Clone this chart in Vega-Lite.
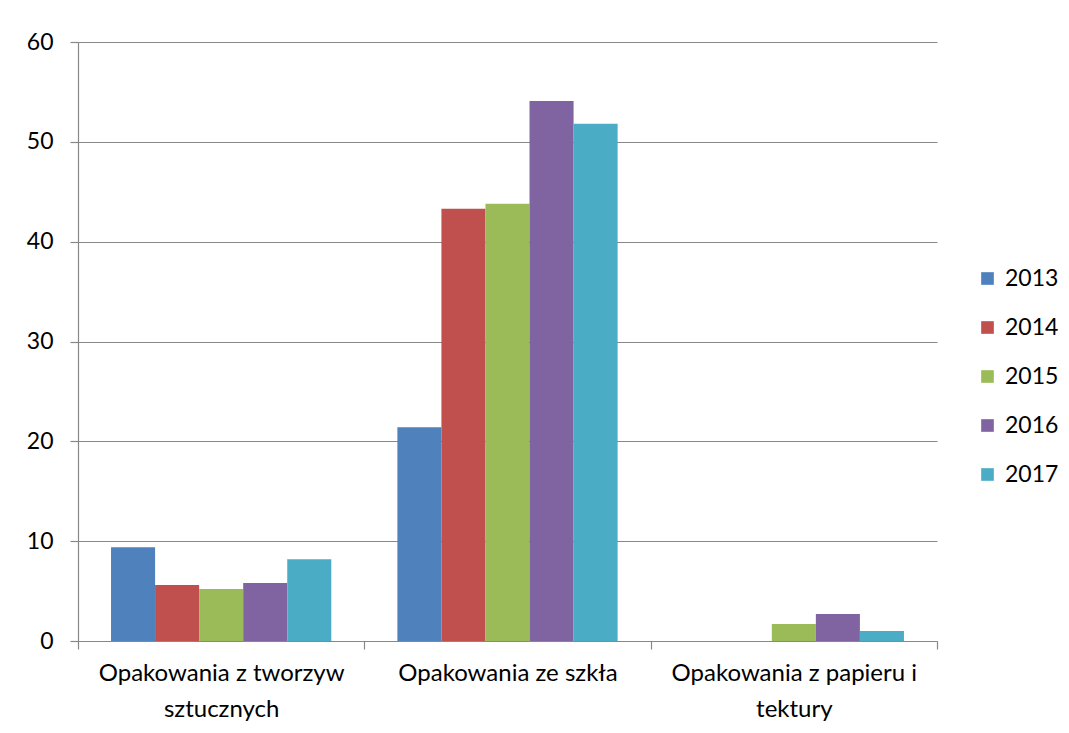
{
  "$schema": "https://vega.github.io/schema/vega-lite/v6.json",
  "autosize": {"type": "none"},
  "width": 859,
  "height": 599,
  "padding": {"left": 78, "top": 42, "right": 132, "bottom": 92},
  "background": "white",
  "config": {
    "view": {"stroke": null},
    "font": "Lato",
    "axis": {"gridColor": "#888888", "domainColor": "#888888", "tickColor": "#888888", "gridWidth": 1.2, "domainWidth": 1.2, "tickWidth": 1.2, "labelColor": "#000000", "labelFont": "Lato", "labelFontSize": 23, "labelLimit": 0}
  },
  "data": {
    "values": [
      {"kategoria": "Opakowania z tworzyw sztucznych", "rok": "2013", "wartosc": 9.4},
      {"kategoria": "Opakowania z tworzyw sztucznych", "rok": "2014", "wartosc": 5.6},
      {"kategoria": "Opakowania z tworzyw sztucznych", "rok": "2015", "wartosc": 5.2},
      {"kategoria": "Opakowania z tworzyw sztucznych", "rok": "2016", "wartosc": 5.8},
      {"kategoria": "Opakowania z tworzyw sztucznych", "rok": "2017", "wartosc": 8.2},
      {"kategoria": "Opakowania ze szkła", "rok": "2013", "wartosc": 21.4},
      {"kategoria": "Opakowania ze szkła", "rok": "2014", "wartosc": 43.3},
      {"kategoria": "Opakowania ze szkła", "rok": "2015", "wartosc": 43.8},
      {"kategoria": "Opakowania ze szkła", "rok": "2016", "wartosc": 54.1},
      {"kategoria": "Opakowania ze szkła", "rok": "2017", "wartosc": 51.8},
      {"kategoria": "Opakowania z papieru i tektury", "rok": "2013", "wartosc": 0},
      {"kategoria": "Opakowania z papieru i tektury", "rok": "2014", "wartosc": 0},
      {"kategoria": "Opakowania z papieru i tektury", "rok": "2015", "wartosc": 1.7},
      {"kategoria": "Opakowania z papieru i tektury", "rok": "2016", "wartosc": 2.7},
      {"kategoria": "Opakowania z papieru i tektury", "rok": "2017", "wartosc": 1.0}
    ]
  },
  "mark": {"type": "bar"},
  "encoding": {
    "x": {
      "field": "kategoria",
      "type": "nominal",
      "sort": null,
      "scale": {"paddingInner": 0, "paddingOuter": 0},
      "axis": {
        "title": null,
        "labelAngle": 0,
        "tickBand": "extent",
        "tickSize": 8,
        "labelFontSize": 24,
        "labelPadding": 12,
        "labelLineHeight": 36,
        "labelBaseline": "top",
        "labelExpr": "datum.label == 'Opakowania z tworzyw sztucznych' ? ['Opakowania z tworzyw', 'sztucznych'] : datum.label == 'Opakowania z papieru i tektury' ? ['Opakowania z papieru i', 'tektury'] : datum.label"
      }
    },
    "xOffset": {
      "field": "rok",
      "type": "nominal",
      "scale": {"paddingInner": 0, "paddingOuter": 0.75}
    },
    "y": {
      "field": "wartosc",
      "type": "quantitative",
      "scale": {"domain": [0, 60], "nice": false},
      "axis": {"title": null, "values": [0, 10, 20, 30, 40, 50, 60], "tickSize": 8, "labelPadding": 17, "grid": true}
    },
    "color": {
      "field": "rok",
      "type": "nominal",
      "scale": {"domain": ["2013", "2014", "2015", "2016", "2017"], "range": ["#4F81BD", "#C0504D", "#9BBB59", "#8064A2", "#4BACC6"]},
      "legend": {
        "title": null,
        "orient": "none",
        "legendX": 898,
        "legendY": 225,
        "symbolType": "square",
        "symbolSize": 160,
        "symbolStrokeWidth": 0,
        "symbolOpacity": 1,
        "labelFontSize": 23,
        "labelFont": "Lato",
        "labelColor": "#000000",
        "rowPadding": 25,
        "labelOffset": 6
      }
    }
  }
}
